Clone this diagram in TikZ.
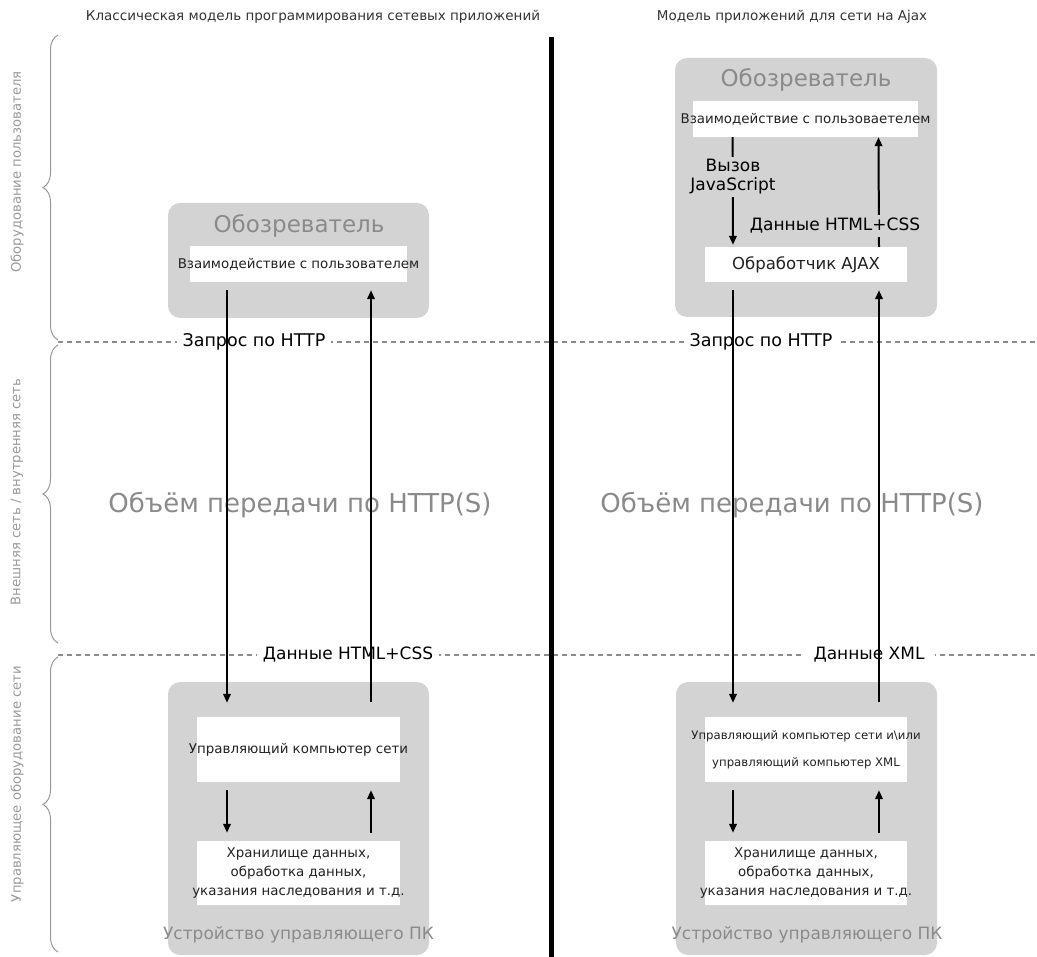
\documentclass[tikz,border=0pt]{standalone}
\usepackage{fontspec}
\setmainfont{DejaVu Sans}
\usetikzlibrary{arrows.meta,decorations.pathreplacing,calc}
\definecolor{boxgray}{HTML}{D3D3D3}
\definecolor{txtgray}{HTML}{8A8A8A}
\definecolor{linegray}{HTML}{8C8C8C}
\definecolor{bracegray}{HTML}{999999}
\definecolor{titlecol}{HTML}{333333}
\definecolor{boxtext}{HTML}{222222}
\begin{document}
\begin{tikzpicture}[x=1pt,y=-1pt,
  panel/.style={fill=boxgray, rounded corners=12pt, inner sep=0pt},
  wbox/.style={fill=white, inner sep=0pt},
  btext/.style={inner sep=0pt, align=center, text=boxtext, font=\fontsize{13.4}{19}\selectfont},
  arr/.style={line width=2pt, -{Triangle[length=9pt,width=7.5pt]}},
  lbl/.style={inner sep=4pt, align=center, font=\fontsize{17}{19}\selectfont},
  dlbl/.style={lbl, fill=white, inner xsep=6pt},
  glbl/.style={lbl, fill=boxgray, inner sep=3pt},
  title/.style={text=titlecol, font=\fontsize{13.5}{16}\selectfont},
  side/.style={text=bracegray, rotate=90, font=\fontsize{13.2}{16}\selectfont},
  brname/.style={text=txtgray, font=\fontsize{23}{27}\selectfont},
  devname/.style={text=txtgray, font=\fontsize{17}{21}\selectfont},
  bigtext/.style={text=txtgray, font=\fontsize{26}{30}\selectfont},
  dashline/.style={linegray, line width=2pt, dash pattern=on 5pt off 4pt},
  bracestyle/.style={bracegray, line width=1pt, decorate, decoration={brace, amplitude=15pt}}
]
\useasboundingbox (0,0) rectangle (1037,957);

% titles
\node[title] (t1) at (313,17) {Классическая модель программирования сетевых приложений};
\node[title] (t2) at (792,17) {Модель приложений для сети на Ajax};

% dashed separators
\coordinate (d1l) at (58,342); \coordinate (d1r) at (1037,342);
\coordinate (d2l) at (58,655); \coordinate (d2r) at (1037,655);
\draw[dashline] (d1l) -- (d1r);
\draw[dashline] (d2l) -- (d2r);

% thick divider
\coordinate (vt) at (551,37); \coordinate (vb) at (551,957);
\draw[line width=5pt] (vt) -- (vb);

% braces
\coordinate (b1t) at (58,35);  \coordinate (b1b) at (58,340);
\coordinate (b2t) at (58,345); \coordinate (b2b) at (58,643);
\coordinate (b3t) at (58,657); \coordinate (b3b) at (58,952);
\draw[bracestyle] (b1b) -- (b1t);
\draw[bracestyle] (b2b) -- (b2t);
\draw[bracestyle] (b3b) -- (b3t);
\node[side] (s1) at (17,172) {Оборудование пользователя};
\node[side] (s2) at (17,492) {Внешняя сеть / внутренняя сеть};
\node[side] (s3) at (17,784) {Управляющее оборудование сети};

% ---------- left column ----------
\node[panel, minimum width=261pt, minimum height=115pt] (lbr) at (298.5,260.5) {};
\node[brname] (lbrt) at (299,226) {Обозреватель};
\node[wbox, minimum width=217pt, minimum height=36pt] (lui) at (298.5,264) {};
\node[btext] (luit) at (lui) {Взаимодействие с пользователем};

\node[panel, minimum width=261pt, minimum height=273pt] (lsv) at (298.5,818.5) {};
\node[wbox, minimum width=203pt, minimum height=65pt] (lsc) at (298.5,749.5) {};
\node[btext] (lsct) at (lsc) {Управляющий компьютер сети};
\node[wbox, minimum width=203pt, minimum height=64pt] (lst) at (298.5,873) {};
\node[btext] (lstt) at (lst) {Хранилище данных,\\обработка данных,\\указания наследования и т.д.};
\node[devname] (lsvt) at (298.5,935) {Устройство управляющего ПК};

% ---------- right column ----------
\node[panel, minimum width=262pt, minimum height=259pt] (rbr) at (806,187.5) {};
\node[brname] (rbrt) at (806,80) {Обозреватель};
\node[wbox, minimum width=225pt, minimum height=36pt] (rui) at (805.5,119) {};
\node[btext] (ruit) at (rui) {Взаимодействие с пользоваетелем};
\node[wbox, minimum width=202pt, minimum height=35pt] (raj) at (806,264.5) {};
\node[lbl, inner sep=0pt, text=boxtext, font=\fontsize{16.5}{19}\selectfont] (rajt) at (raj) {Обработчик AJAX};

\node[panel, minimum width=261pt, minimum height=273pt] (rsv) at (806.5,818.5) {};
\node[wbox, minimum width=202pt, minimum height=65pt] (rsc) at (806,749.5) {};
\node[btext, font=\fontsize{11.7}{27}\selectfont] (rsct) at (rsc) {Управляющий компьютер сети и\textbackslash или\\управляющий компьютер XML};
\node[wbox, minimum width=202pt, minimum height=64pt] (rst) at (806,873) {};
\node[btext] (rstt) at (rst) {Хранилище данных,\\обработка данных,\\указания наследования и т.д.};
\node[devname] (rsvt) at (807,935) {Устройство управляющего ПК};

% big middle text
\node[bigtext] (lmid) at (300,505) {Объём передачи по HTTP(S)};
\node[bigtext] (rmid) at (792,505) {Объём передачи по HTTP(S)};

% labels on dashed lines
\node[dlbl, font=\fontsize{17.5}{19}\selectfont] (lq) at (254,342) {Запрос по HTTP};
\node[dlbl, font=\fontsize{17.5}{19}\selectfont] (rq) at (761,342) {Запрос по HTTP};
\node[dlbl] (ld) at (348,655) {Данные HTML+CSS};
\node[dlbl, inner xsep=10pt] (rd) at (869,655) {Данные XML};

% left arrows
\draw[arr, shorten <=8pt, shorten >=14pt] ([xshift=-71.5pt]lui.south) -- ([xshift=-71.5pt]lsc.north);
\draw[arr, shorten <=15pt, shorten >=8pt] ([xshift=72.5pt]lsc.north) -- ([xshift=72.5pt]lui.south);
\draw[arr, shorten <=8pt, shorten >=8pt] ([xshift=-71.5pt]lsc.south) -- ([xshift=-71.5pt]lst.north);
\draw[arr, shorten <=8pt, shorten >=8pt] ([xshift=72.5pt]lst.north) -- ([xshift=72.5pt]lsc.south);

% right arrows
\draw[arr, shorten >=2pt] ([xshift=-73pt]rui.south) -- ([xshift=-73pt]raj.north);
\draw[arr] ([xshift=73pt]raj.north) -- ([xshift=73pt]rui.south);
\node[glbl] (rjs) at (733,177) {Вызов\\JavaScript};
\node[glbl] (rhc) at (835,226) {Данные HTML+CSS};
\draw[arr, shorten <=8pt, shorten >=14pt] ([xshift=-73pt]raj.south) -- ([xshift=-73pt]rsc.north);
\draw[arr, shorten <=15pt, shorten >=8pt] ([xshift=73pt]rsc.north) -- ([xshift=73pt]raj.south);
\draw[arr, shorten <=8pt, shorten >=8pt] ([xshift=-73pt]rsc.south) -- ([xshift=-73pt]rst.north);
\draw[arr, shorten <=8pt, shorten >=8pt] ([xshift=73pt]rst.north) -- ([xshift=73pt]rsc.south);
\end{tikzpicture}
\end{document}
